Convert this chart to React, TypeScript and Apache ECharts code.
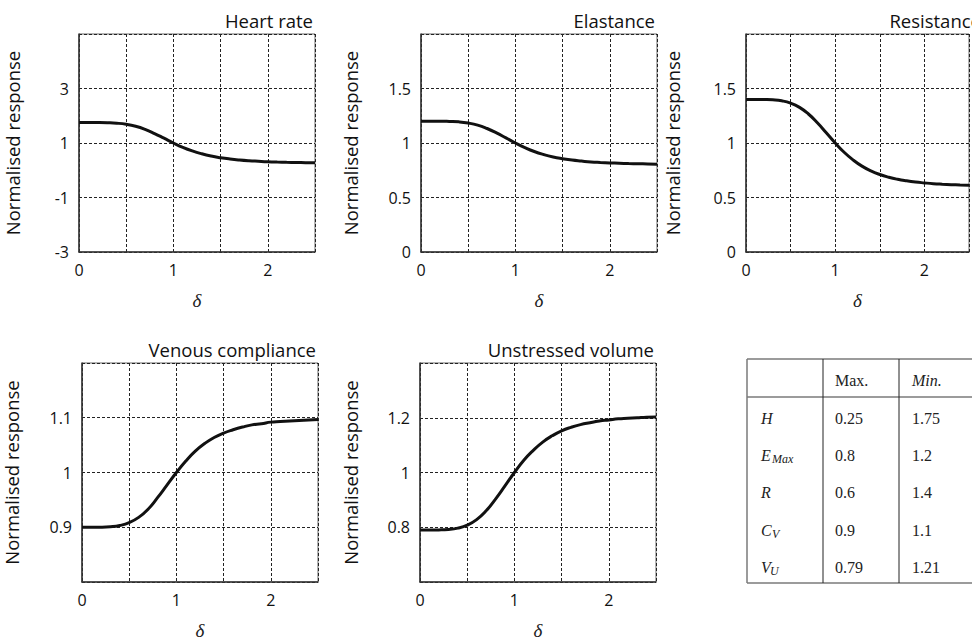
import React, { useEffect, useRef } from "react";
import * as echarts from "echarts";

const delta = [0, 0.1, 0.2, 0.3, 0.4, 0.5, 0.6, 0.7, 0.8, 0.9, 1.0, 1.1, 1.2, 1.3, 1.4, 1.5, 1.6, 1.7, 1.8, 1.9, 2.0, 2.1, 2.2, 2.3, 2.4, 2.5];

const heartRate = [1.75, 1.75, 1.749, 1.743, 1.726, 1.687, 1.614, 1.5, 1.348, 1.176, 1.0, 0.841, 0.709, 0.603, 0.52, 0.459, 0.412, 0.376, 0.349, 0.33, 0.313, 0.301, 0.292, 0.285, 0.279, 0.274];
const elastance = [1.2, 1.2, 1.2, 1.198, 1.194, 1.183, 1.164, 1.133, 1.093, 1.047, 1.0, 0.958, 0.922, 0.894, 0.872, 0.856, 0.843, 0.834, 0.826, 0.821, 0.817, 0.814, 0.811, 0.809, 0.808, 0.806];
const resistance = [1.4, 1.4, 1.399, 1.396, 1.387, 1.366, 1.327, 1.266, 1.186, 1.094, 1.0, 0.915, 0.845, 0.788, 0.744, 0.711, 0.686, 0.667, 0.653, 0.642, 0.634, 0.627, 0.622, 0.618, 0.615, 0.613];
const venousCompliance = [0.9, 0.9, 0.9001, 0.9009, 0.9032, 0.9084, 0.918, 0.933, 0.954, 0.977, 1.0, 1.021, 1.039, 1.053, 1.064, 1.072, 1.078, 1.083, 1.087, 1.089, 1.092, 1.093, 1.094, 1.095, 1.096, 1.097];
const unstressedVolume = [0.79, 0.79, 0.7903, 0.7918, 0.7967, 0.8076, 0.828, 0.86, 0.903, 0.951, 1.0, 1.045, 1.081, 1.111, 1.134, 1.152, 1.165, 1.175, 1.182, 1.188, 1.192, 1.196, 1.198, 1.2, 1.202, 1.203];

const panelTitles = ["Heart rate", "Elastance", "Resistance", "Venous compliance", "Unstressed volume"];
const yMins = [-3, 0, 0, 0.8, 0.6];
const yMaxs = [5, 2, 2, 1.2, 1.4];
const yIntervals = [2, 0.5, 0.5, 0.1, 0.2];

const tableHeader = ["Max.", "Min."];
const rowSymbols = ["H", "E", "R", "C", "V"];
const rowSubs = ["", "Max", "", "V", "U"];
const maxVals = ["0.25", "0.8", "0.6", "0.9", "0.79"];
const minVals = ["1.75", "1.2", "1.4", "1.1", "1.21"];

const SANS = "'Open Sans', Lato, sans-serif";
const SERIF = "'Liberation Serif', 'DejaVu Serif', serif";

export default function App() {
  const ref = useRef<HTMLDivElement>(null);
  useEffect(() => {
    if (!ref.current) return;
    const chart = echarts.init(ref.current, null, { renderer: "svg" });
    const seriesData = [heartRate, elastance, resistance, venousCompliance, unstressedVolume];
    const grids = [
      { left: 79, top: 34, width: 236, height: 218 },
      { left: 421, top: 34, width: 236, height: 218 },
      { left: 746, top: 34, width: 237, height: 218 },
      { left: 82, top: 363, width: 236, height: 219 },
      { left: 420, top: 363, width: 236, height: 219 },
    ];
    const nameGaps = [57, 61, 64, 61, 60];
    const dash = [3, 2];

    const graphic: any[] = [];
    grids.forEach((g, i) => {
      graphic.push({
        type: "text",
        x: g.left + g.width - 2,
        y: g.top - 14,
        style: {
          text: panelTitles[i],
          align: "right",
          verticalAlign: "middle",
          font: `18.5px ${SANS}`,
          fill: "#111",
        },
      });
    });

    // table
    const tL = 747, tT = 359, tB = 583, tR = 990, hB = 397;
    const c1 = 823, c2 = 899;
    const gray = "#7a7a7a";
    graphic.push({ type: "line", shape: { x1: tL, y1: tT, x2: tR, y2: tT }, style: { stroke: gray, lineWidth: 1.5 } });
    graphic.push({ type: "line", shape: { x1: tL, y1: tB, x2: tR, y2: tB }, style: { stroke: gray, lineWidth: 1.5 } });
    graphic.push({ type: "line", shape: { x1: tL, y1: hB, x2: tR, y2: hB }, style: { stroke: gray, lineWidth: 1.5 } });
    graphic.push({ type: "line", shape: { x1: tL, y1: tT, x2: tL, y2: tB }, style: { stroke: gray, lineWidth: 1.5 } });
    graphic.push({ type: "line", shape: { x1: c1, y1: tT, x2: c1, y2: tB }, style: { stroke: "#222", lineWidth: 1 } });
    graphic.push({ type: "line", shape: { x1: c2, y1: tT, x2: c2, y2: tB }, style: { stroke: "#222", lineWidth: 1 } });
    graphic.push({ type: "text", x: 835, y: 380, style: { text: tableHeader[0], font: `16px ${SERIF}`, fill: "#222", verticalAlign: "middle" } });
    graphic.push({ type: "text", x: 912, y: 380, style: { text: tableHeader[1], font: `italic 16px ${SERIF}`, fill: "#222", verticalAlign: "middle" } });
    const rowY = [418, 455, 492, 530, 567];
    rowSymbols.forEach((s, i) => {
      const y = rowY[i];
      graphic.push({ type: "text", x: 761, y, style: { text: s, font: `italic 16px ${SERIF}`, fill: "#222", verticalAlign: "middle" } });
      if (rowSubs[i]) {
        const off = s === "E" ? 11 : s === "C" ? 11 : 9;
        graphic.push({ type: "text", x: 761 + off, y: y + 4, style: { text: rowSubs[i], font: `italic 12px ${SERIF}`, fill: "#222", verticalAlign: "middle" } });
      }
      graphic.push({ type: "text", x: 835, y, style: { text: maxVals[i], font: `16px ${SERIF}`, fill: "#222", verticalAlign: "middle" } });
      graphic.push({ type: "text", x: 912, y, style: { text: minVals[i], font: `16px ${SERIF}`, fill: "#222", verticalAlign: "middle" } });
    });

    const option: any = {
      animation: false,
      backgroundColor: "#fff",
      grid: grids.map((g) => ({ ...g, show: true, borderColor: "#666", borderWidth: 1, backgroundColor: "#fff" })),
      xAxis: grids.map((g, i) => ({
        type: "value",
        gridIndex: i,
        min: 0,
        max: 2.5,
        interval: 0.5,
        name: "δ",
        nameLocation: "middle",
        nameGap: 39,
        nameTextStyle: { fontFamily: SERIF, fontStyle: "italic", fontSize: 19, color: "#222" },
        axisLine: { onZero: false, lineStyle: { color: "#333", width: 1.5 } },
        axisTick: { show: false },
        axisLabel: {
          margin: 10,
          fontFamily: SANS,
          fontSize: 16,
          color: "#111",
          formatter: (v: number) => (Math.abs(v - Math.round(v)) < 1e-6 && v < 2.4 ? String(Math.round(v)) : ""),
        },
        splitLine: { show: true, lineStyle: { color: "#222", type: dash, width: 1 } },
      })),
      yAxis: grids.map((g, i) => ({
        type: "value",
        gridIndex: i,
        min: yMins[i],
        max: yMaxs[i],
        interval: yIntervals[i],
        name: "Normalised response",
        nameLocation: "middle",
        nameGap: nameGaps[i],
        nameTextStyle: { fontFamily: SANS, fontSize: 18.5, color: "#111" },
        axisLine: { onZero: false, lineStyle: { color: "#333", width: 1.5 } },
        axisTick: { show: false },
        axisLabel: {
          margin: 10,
          fontFamily: SANS,
          fontSize: 16,
          color: "#111",
          showMaxLabel: false,
          showMinLabel: i < 3,
        },
        splitLine: { show: true, lineStyle: { color: "#222", type: dash, width: 1 } },
      })),
      series: seriesData.map((d, i) => ({
        type: "line",
        xAxisIndex: i,
        yAxisIndex: i,
        data: delta.map((x, k) => [x, d[k]]),
        smooth: true,
        symbol: "none",
        lineStyle: { color: "#111", width: 3 },
        silent: true,
      })),
      graphic,
    };
    chart.setOption(option);
    return () => chart.dispose();
  }, []);
  return (
    <div style={{ position: "absolute", left: 0, top: 0, width: 972, height: 641, background: "#fff" }}>
      <div ref={ref} style={{ width: 972, height: 641 }} />
    </div>
  );
}
